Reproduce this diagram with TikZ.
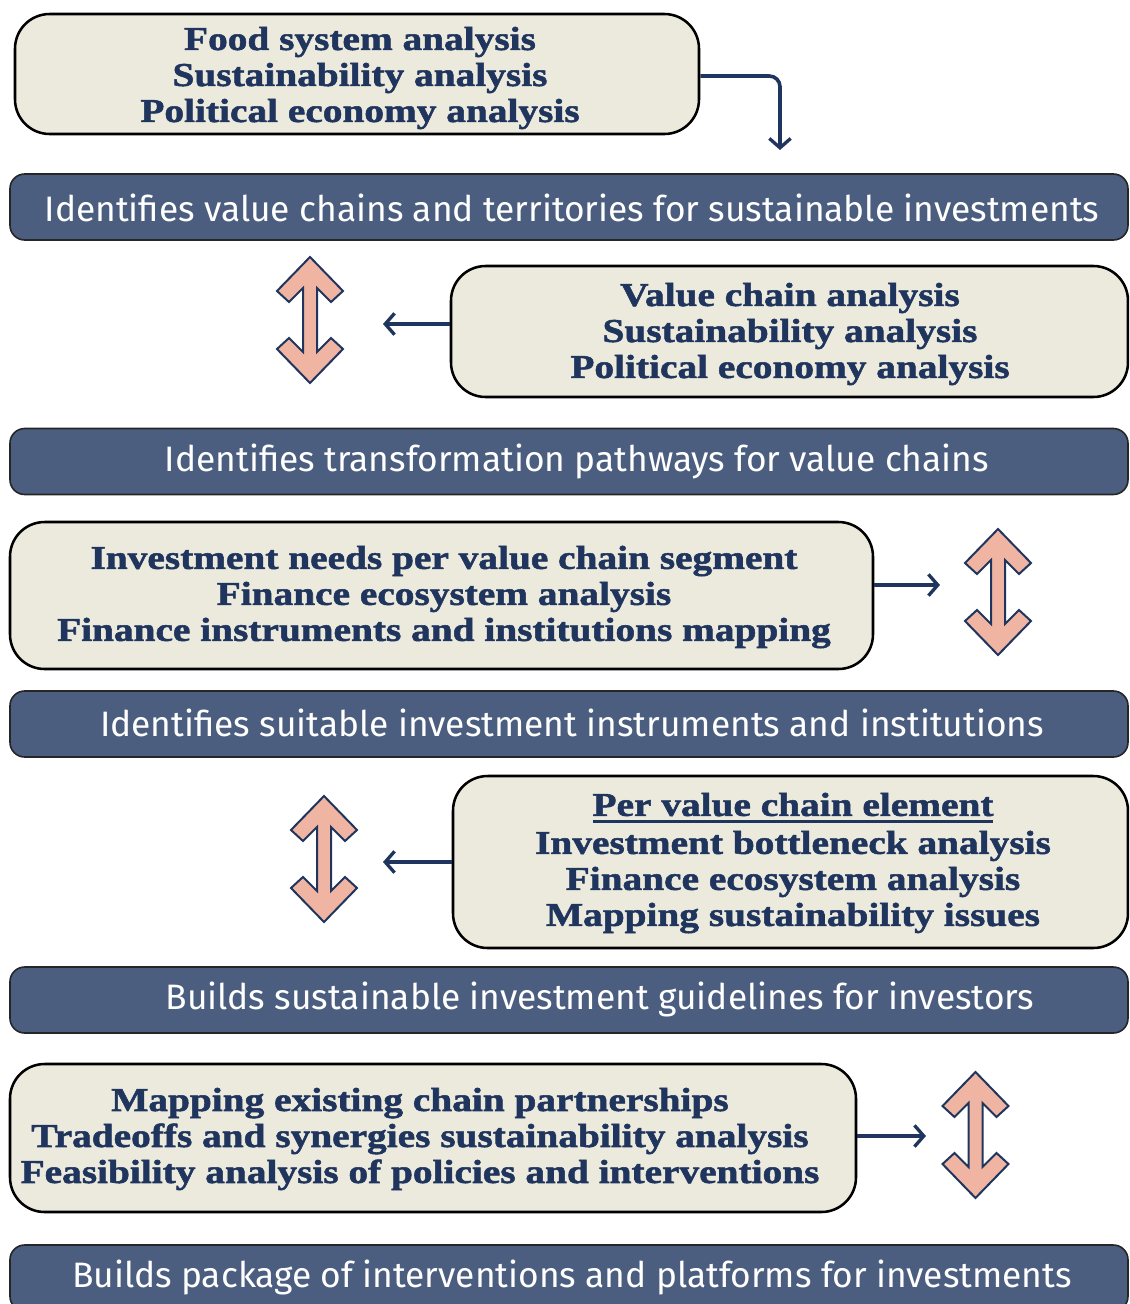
\documentclass[tikz,border=0pt]{standalone}
\usepackage{fontspec}
\usetikzlibrary{arrows.meta}
\newfontfamily\headfont[FakeStretch=1.18,FakeBold=1.6]{Liberation Serif}
\newfontfamily\barfont{Fira Sans}
\definecolor{navy}{HTML}{1F355E}
\definecolor{barblue}{HTML}{4B5E7F}
\definecolor{beige}{HTML}{ECE9DD}
\definecolor{salmon}{HTML}{F0B5A2}
\newcommand\heading[1]{\setbox0\hbox{#1}\rlap{\rule[-5pt]{\wd0}{2pt}}\box0}
\begin{document}
\begin{tikzpicture}[x=0.75pt,y=-0.75pt,
  panel/.style={draw=black,line width=1.9pt,fill=beige,rounded corners=26pt,inner sep=0},
  bar/.style={draw=black!85,line width=1.2pt,fill=barblue,rounded corners=11pt,inner sep=0,minimum height=49.5pt},
  paneltext/.style={font=\headfont\bfseries\fontsize{25}{27}\selectfont,text=navy,align=center,inner sep=0},
  bartext/.style={font=\barfont\fontsize{26.5}{30}\selectfont,text=white,inner sep=0},
  conn/.style={draw=navy,line width=2.7pt,-{Straight Barb[length=7pt,width=16pt,line width=2.5pt]}},
  dbl/.pic={\draw[navy,line width=1.5pt,fill=salmon,line join=miter]
     (0,-63) -- (33,-29) -- (21,-18) -- (7,-32) -- (7,32) -- (21,18) -- (33,29)
     -- (0,63) -- (-33,29) -- (-21,18) -- (-7,32) -- (-7,-32) -- (-21,-18) -- (-33,-29) -- cycle;}
]
\clip (0,0) rectangle (1129,1304);

% analysis panels
\node[panel,minimum width=513pt,minimum height=90pt] (A) at (357,74) {};
\node[paneltext] (At) at (360,78) {Food system analysis\\Sustainability analysis\\Political economy analysis};

\node[panel,minimum width=507.75pt,minimum height=98.25pt] (B) at (789.5,331.5) {};
\node[paneltext] (Bt) at (790,334) {Value chain analysis\\Sustainability analysis\\Political economy analysis};

\node[panel,minimum width=647.25pt,minimum height=110.25pt] (C) at (441.5,595.5) {};
\node[paneltext] (Ct) at (444,597) {Investment needs per value chain segment\\Finance ecosystem analysis\\Finance instruments and institutions mapping};

\node[panel,minimum width=506.25pt,minimum height=129pt] (D) at (790.5,862) {};
\node[paneltext] (Dt) at (793,863) {\heading{Per value chain element}\\[1.5pt]Investment bottleneck analysis\\Finance ecosystem analysis\\Mapping sustainability issues};

\node[panel,minimum width=634.5pt,minimum height=111pt] (E) at (433,1138) {};
\node[paneltext] (Et) at (420,1139) {Mapping existing chain partnerships\\Tradeoffs and synergies sustainability analysis\\Feasibility analysis of policies and interventions};

% outcome bars
\node[bar,minimum width=838.5pt] (R1) at (569,207) {};
\node[bartext] (R1t) at (572,208) {Identifies value chains and territories for sustainable investments};
\node[bar,minimum width=838.5pt] (R2) at (569,461.5) {};
\node[bartext] (R2t) at (577,461) {Identifies transformation pathways for value chains};
\node[bar,minimum width=838.5pt] (R3) at (569,724) {};
\node[bartext] (R3t) at (572,723) {Identifies suitable investment instruments and institutions};
\node[bar,minimum width=838.5pt] (R4) at (569,1000) {};
\node[bartext] (R4t) at (600,999) {Builds sustainable investment guidelines for investors};
\node[bar,minimum width=838.5pt] (R5) at (569,1278) {};
\node[bartext] (R5t) at (572,1277) {Builds package of interventions and platforms for investments};

% connectors
\coordinate (ca) at (780,150);
\coordinate (cb) at (383,324);
\coordinate (cc) at (940,585);
\coordinate (cd) at (383,862);
\coordinate (ce) at (926,1136);
\draw[conn,rounded corners=8pt] (A.east |- 0,76) -| (ca);
\draw[conn] (B.west |- cb) -- (cb);
\draw[conn] (C.east |- cc) -- (cc);
\draw[conn] (D.west |- cd) -- (cd);
\draw[conn] (E.east |- ce) -- (ce);

% two-way arrows
\pic at (310,320) {dbl};
\pic at (998,592) {dbl};
\pic at (324,859) {dbl};
\pic at (975.5,1135) {dbl};
\end{tikzpicture}
\end{document}
